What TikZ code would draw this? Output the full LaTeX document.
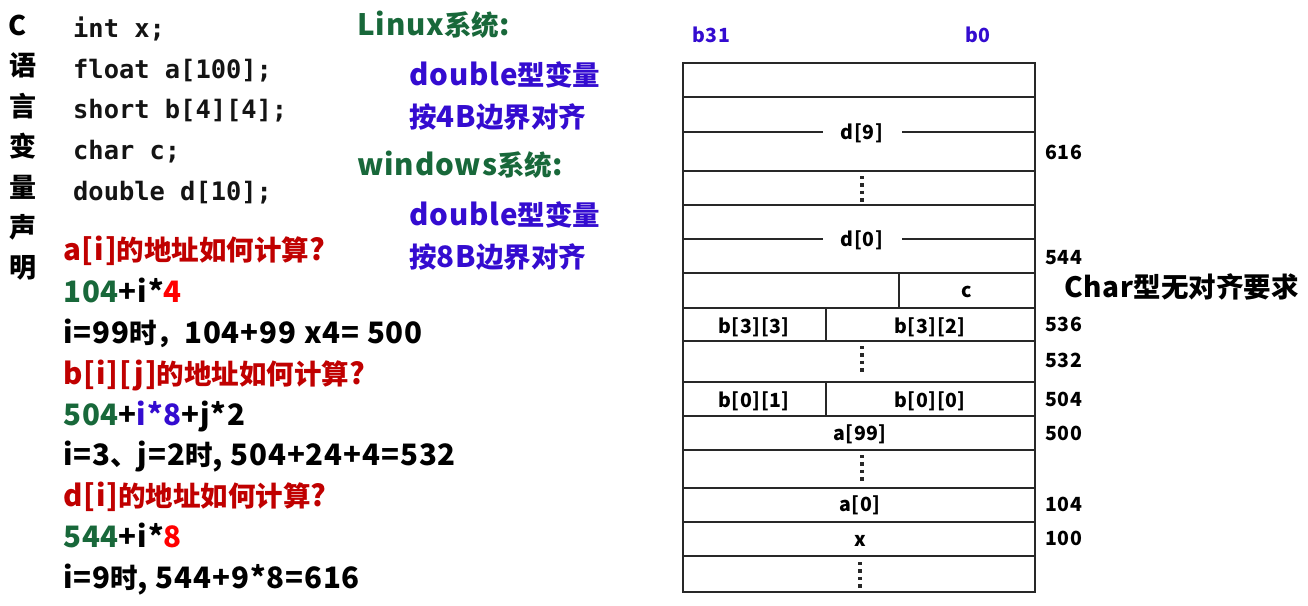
\documentclass[tikz,border=0pt]{standalone}
\usepackage{fontspec}
\setmainfont{Noto Sans CJK SC}[LetterSpace=3]
\newfontfamily\cjk{Noto Sans CJK SC}
\newfontfamily\codefont{DejaVu Sans Mono}
\newcommand{\cj}[1]{{\cjk\fontsize{27.5}{28}\selectfont #1}}
\definecolor{dgreen}{RGB}{24,104,58}
\definecolor{dblue}{RGB}{52,12,208}
\definecolor{dred}{RGB}{192,0,0}
\definecolor{bred}{RGB}{255,0,0}
\definecolor{gridc}{RGB}{40,40,40}
\definecolor{codec}{RGB}{20,20,20}
\tikzset{
  vchar/.style={inner sep=0pt, anchor=center, font=\cjk\bfseries\fontsize{27}{27}\selectfont},
  codeline/.style={inner sep=0pt, anchor=base west, text=codec, font=\codefont\bfseries\fontsize{25.4}{25}\selectfont},
  txtline/.style={inner sep=0pt, anchor=base west, font=\bfseries\fontsize{29.5}{29}\selectfont},
  cell/.style={inner sep=0pt, anchor=base, font=\bfseries\fontsize{19.5}{20}\selectfont},
  addr/.style={inner sep=0pt, anchor=base west, font=\bfseries\fontsize{19.5}{20}\selectfont},
  grid/.style={draw=gridc, line width=1.3pt},
  vdots/.style={line width=4pt, dash pattern=on 3.4pt off 4pt, gridc}
}
\begin{document}
\begin{tikzpicture}[x=1pt,y=-1pt]
\useasboundingbox[fill=white] (0,0) rectangle (1308,605);
% vertical title
\node[vchar, font=\bfseries\fontsize{27}{27}\selectfont] (t0) at (18,25) {C};
\foreach \ch [count=\i] in {语,言,变,量,声,明}
  \node[vchar] (t\i) at (23,25+40.5*\i) {\ch};
% code
\node[codeline] (c1) at (73,37.5) {int x;};
\node[codeline] (c2) at (73,78) {float a[100];};
\node[codeline] (c3) at (73,118.6) {short b[4][4];};
\node[codeline] (c4) at (73,159.4) {char c;};
\node[codeline] (c5) at (73,200) {double d[10];};
% left explanations
\node[txtline, text=dred] (q1) at (63,260) {a[i]\cj{的地址如何计算}?};
\node[txtline] (e1) at (63,302.5) {\textcolor{dgreen}{104}+i*\textcolor{bred}{4}};
\node[txtline] (r1) at (63,343.3) {i=99\cj{时，}104+99 x4= 500};
\node[txtline, text=dred] (q2) at (63,384.3) {b[i][j]\cj{的地址如何计算}?};
\node[txtline] (e2) at (63,425) {\textcolor{dgreen}{504}+\textcolor{dblue}{i*8}+j*2};
\node[txtline] (r2) at (63,465.5) {i=3\cj{、}j=2\cj{时}, 504+24+4=532};
\node[txtline, text=dred] (q3) at (63,506.7) {d[i]\cj{的地址如何计算}?};
\node[txtline] (e3) at (63,547.7) {\textcolor{dgreen}{544}+i*\textcolor{bred}{8}};
\node[txtline] (r3) at (63,588.3) {i=9\cj{时}, 544+9*8=616};
% alignment notes
\node[txtline, text=dgreen] (n1) at (357,35) {Linux\cj{系统}:};
\node[txtline, text=dblue] (n2) at (409,85) {double\cj{型变量}};
\node[txtline, text=dblue] (n3) at (409,127) {\cj{按}4B\cj{边界对齐}};
\node[txtline, text=dgreen] (n4) at (357,175) {windows\cj{系统}:};
\node[txtline, text=dblue] (n5) at (409,225) {double\cj{型变量}};
\node[txtline, text=dblue] (n6) at (409,267) {\cj{按}8B\cj{边界对齐}};
% bit labels
\node[addr, text=dblue] (b31) at (692,42.7) {b31};
\node[addr, text=dblue] (b0) at (965,42.7) {b0};
% memory table
\draw[grid] (683,63) rectangle (1035,592);
\foreach \yy in {97,171,205,273,308,341,382,416,450,488,522,556}
  \draw[grid] (683,\yy) -- (1035,\yy);
\draw[grid] (683,132) -- (823,132) (902,132) -- (1035,132);
\draw[grid] (683,239) -- (823,239) (902,239) -- (1035,239);
\draw[grid] (899,273) -- (899,308);
\draw[grid] (826,308) -- (826,341);
\draw[grid] (826,382) -- (826,416);
\node[cell] (d9) at (862,139.3) {d[9]};
\node[cell] (d0) at (862,246.3) {d[0]};
\node[cell] (cc) at (967,297.5) {c};
\node[cell] (b33) at (754,333.3) {b[3][3]};
\node[cell] (b32) at (930,333.3) {b[3][2]};
\node[cell] (b01) at (754,407.3) {b[0][1]};
\node[cell] (b00) at (930,407.3) {b[0][0]};
\node[cell] (a99) at (860,440.7) {a[99]};
\node[cell] (a0) at (860,511.7) {a[0]};
\node[cell] (xx) at (860,546) {x};
\draw[vdots] (862,176) -- (862,202);
\draw[vdots] (862,346) -- (862,372);
\draw[vdots] (862,455) -- (862,481);
\draw[vdots] (860,562) -- (860,588);
% addresses
\node[addr] (a616) at (1045,159.3) {616};
\node[addr] (a544) at (1045,264.3) {544};
\node[addr] (a536) at (1045,331.7) {536};
\node[addr] (a532) at (1045,367.5) {532};
\node[addr] (a504) at (1045,406.7) {504};
\node[addr] (a500) at (1045,440.7) {500};
\node[addr] (a104) at (1045,511.7) {104};
\node[addr] (a100) at (1045,545.7) {100};
\node[txtline, font=\bfseries\fontsize{28}{28}\selectfont] (note) at (1064,297.3) {Char\cj{型无对齐要求}};
\end{tikzpicture}
\end{document}
